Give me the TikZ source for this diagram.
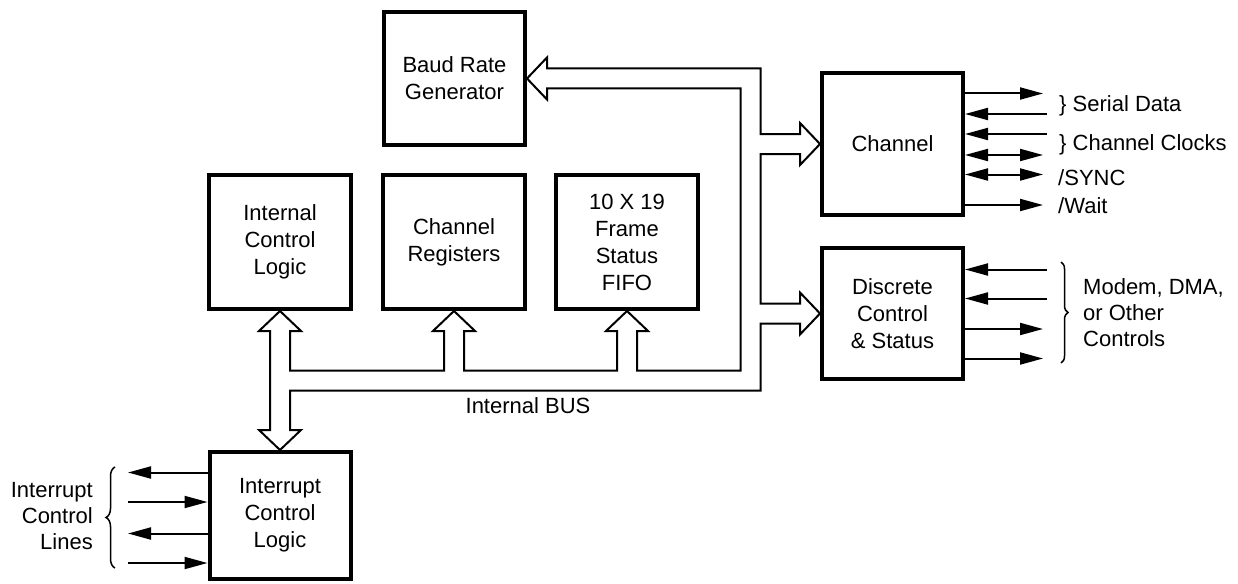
\documentclass[tikz,border=0pt]{standalone}
\usepackage{fontspec}
\setmainfont{Liberation Sans}
\usetikzlibrary{arrows.meta,decorations.pathreplacing,calc}
\begin{document}
\begin{tikzpicture}[x=1pt,y=-1pt,
  box/.style={draw, line width=4pt, inner sep=0pt, align=center, font=\fontsize{22}{27}\selectfont},
  lbl/.style={inner sep=0pt, font=\fontsize{22}{26}\selectfont},
  bus/.style={draw, line width=2pt, line join=miter},
  sig/.style={line width=2pt, -{Triangle[length=23pt,width=12pt]}},
  sigboth/.style={line width=2pt, {Triangle[length=23pt,width=12pt]}-{Triangle[length=23pt,width=12pt]}},
  brc/.style={line width=1.5pt, decorate, decoration={brace, amplitude=#1}}
]
\useasboundingbox (0,0) rectangle (1238,583);

% blocks
\node[box, minimum width=141pt, minimum height=133pt] (baud) at (454.5,78.5) {Baud Rate\\Generator};
\node[box, minimum width=141pt, minimum height=141pt] (chan) at (892.5,144) {Channel};
\node[box, minimum width=141pt, minimum height=131pt] (disc) at (892.5,313.5) {Discrete\\Control\\\& Status};
\node[box, minimum width=142pt, minimum height=134pt] (icl) at (280,242) {Internal\\Control\\Logic};
\node[box, minimum width=142pt, minimum height=134pt] (creg) at (454,242) {Channel\\Registers};
\node[box, minimum width=142pt, minimum height=134pt] (fifo) at (627,242) {10 X 19\\Frame\\Status\\FIFO};
\node[box, minimum width=141pt, minimum height=127pt] (intr) at (280,515.5) {Interrupt\\Control\\Logic};

% internal bus geometry
\coordinate (xo) at (760.5,0);
\coordinate (xi) at (740.5,0);
\coordinate (yi) at (0,370.5);
\coordinate (yo) at (0,390.5);
\coordinate (bA) at ($(baud.east)+(20,-10)$);
\coordinate (bB) at ($(baud.east)+(20,10)$);
\coordinate (cA) at ($(chan.west)+(-20,-10)$);
\coordinate (cB) at ($(chan.west)+(-20,10)$);
\coordinate (dA) at ($(disc.west)+(-20,-10)$);
\coordinate (dB) at ($(disc.west)+(-20,10)$);
\coordinate (iA) at ($(icl.south)+(10,20)$);
\coordinate (iB) at ($(icl.south)+(-10,20)$);
\coordinate (nA) at ($(intr.north)+(10,-20)$);
\coordinate (nB) at ($(intr.north)+(-10,-20)$);
\coordinate (rA) at ($(creg.south)+(10,20)$);
\coordinate (rB) at ($(creg.south)+(-10,20)$);
\coordinate (fA) at ($(fifo.south)+(10,20)$);
\coordinate (fB) at ($(fifo.south)+(-10,20)$);

\draw[bus] (baud.east) -- ($(baud.east)+(20,-21)$) -- (bA) -- (bA -| xo) -- (cA -| xo) -- (cA)
  -- ($(chan.west)+(-20,-21)$) -- (chan.west) -- ($(chan.west)+(-20,21)$) -- (cB) -- (cB -| xo)
  -- (dA -| xo) -- (dA) -- ($(disc.west)+(-20,-21)$) -- (disc.west) -- ($(disc.west)+(-20,21)$)
  -- (dB) -- (dB -| xo) -- (xo |- yo) -- (nA |- yo) -- (nA) -- ($(intr.north)+(21,-20)$)
  -- (intr.north) -- ($(intr.north)+(-21,-20)$) -- (nB) -- (iB) -- ($(icl.south)+(-21,20)$)
  -- (icl.south) -- ($(icl.south)+(21,20)$) -- (iA) -- (iA |- yi) -- (rB |- yi) -- (rB)
  -- ($(creg.south)+(-21,20)$) -- (creg.south) -- ($(creg.south)+(21,20)$) -- (rA) -- (rA |- yi)
  -- (fB |- yi) -- (fB) -- ($(fifo.south)+(-21,20)$) -- (fifo.south) -- ($(fifo.south)+(21,20)$)
  -- (fA) -- (fA |- yi) -- (xi |- yi) -- (xi |- bB) -- (bB) -- ($(baud.east)+(20,21)$) -- cycle;

\node[lbl, anchor=base] (lbus) at (528,413.3) {Internal BUS};

% channel signals
\coordinate (s1) at (1043,93.5);
\coordinate (s2) at (1047,114);
\coordinate (s3) at (1047,134);
\coordinate (s4) at (1043,155);
\coordinate (s5) at (1043,174.5);
\coordinate (s6) at (1043,205);
\draw[sig] (chan.east |- s1) -- (s1);
\draw[sig] (s2) -- (chan.east |- s2);
\draw[sig] (s3) -- (chan.east |- s3);
\draw[sigboth] (chan.east |- s4) -- (s4);
\draw[sigboth] (chan.east |- s5) -- (s5);
\draw[sig] (chan.east |- s6) -- (s6);
\node[lbl, anchor=base west] (lsd) at (1059,112) {\} Serial Data};
\node[lbl, anchor=base west] (lcc) at (1059,150) {\} Channel Clocks};
\node[lbl, anchor=base west] (lsy) at (1058,185) {/SYNC};
\node[lbl, anchor=base west] (lwt) at (1058,213) {/Wait};

% discrete signals
\coordinate (m1) at (1047,269.5);
\coordinate (m2) at (1047,298.5);
\coordinate (m3) at (1043,329);
\coordinate (m4) at (1043,358.5);
\draw[sig] (m1) -- (disc.east |- m1);
\draw[sig] (m2) -- (disc.east |- m2);
\draw[sig] (disc.east |- m3) -- (m3);
\draw[sig] (disc.east |- m4) -- (m4);
\coordinate (bm1) at (1061,262);
\coordinate (bm2) at (1061,363);
\draw[brc=7pt] (bm1) -- (bm2);
\node[lbl, anchor=west, align=left] (lmd) at (1083,313) {Modem, DMA,\\or Other\\Controls};

% interrupt signals
\coordinate (q1) at (128,472.5);
\coordinate (q2) at (128,502);
\coordinate (q3) at (128,533.5);
\coordinate (q4) at (128,563);
\draw[sig] (intr.west |- q1) -- (q1);
\draw[sig] (q2) -- (intr.west |- q2);
\draw[sig] (intr.west |- q3) -- (q3);
\draw[sig] (q4) -- (intr.west |- q4);
\coordinate (bq1) at (115,568);
\coordinate (bq2) at (115,467);
\draw[brc=9pt] (bq1) -- (bq2);
\node[lbl, anchor=east, align=right] (lint) at (93,516) {Interrupt\\Control\\Lines};
\end{tikzpicture}
\end{document}
